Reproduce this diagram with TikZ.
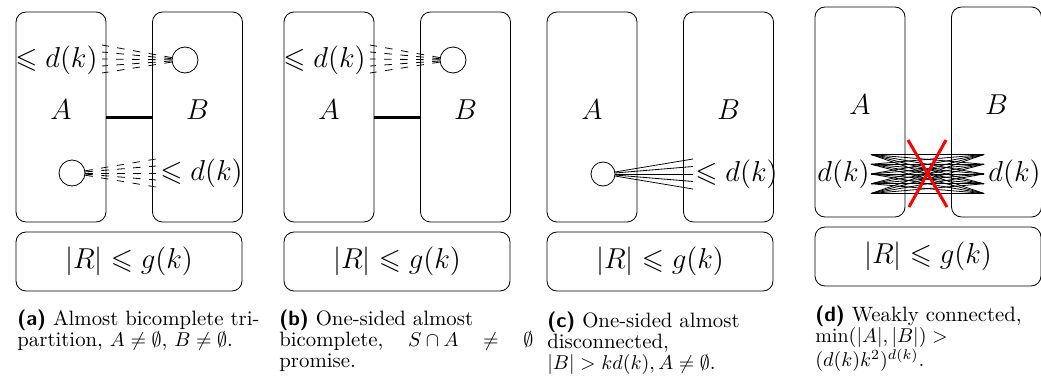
\documentclass[tikz,border=0pt]{standalone}
\usepackage{amsmath,amssymb}

\tikzset{
	partbox/.style={draw, rounded corners=5pt, minimum width=45pt, minimum height=105pt, inner sep=0pt},
	restbox/.style={draw, rounded corners=5pt, minimum width=113pt, minimum height=29.5pt, inner sep=0pt},
	vtx/.style={draw, circle, minimum size=13pt, inner sep=0pt},
	dashfan/.style={dash pattern=on 3.75pt off 4.25pt},
	bigmath/.style={font=\fontsize{14.2}{16}\selectfont},
	capt/.style={anchor=north west, align=left, inner sep=0pt, font=\fontsize{10.4}{10.6}\selectfont}
}

\begin{document}
\begin{tikzpicture}[x=0.5pt, y=-0.5pt, bigmath]
	\useasboundingbox (0,0) rectangle (1041,380);
	\foreach \p/\dx/\dy in {a/0/0, b/268/0, c/531/0, d/799/-5} {
		\node[partbox] (A\p) at (61+\dx,117+\dy) {};
		\node[partbox] (B\p) at (197.5+\dx,117+\dy) {};
		\node[restbox] (R\p) at (129+\dx,261.5+\dy) {$|R|\leqslant g(k)$};
		\node (lA\p) at (61+\dx,110+\dy) {$A$};
		\node (lB\p) at (197.5+\dx,110+\dy) {$B$};
	}
	\draw[line width=1.5pt] (Aa.east) -- (Ba.west);
	\draw[line width=1.5pt] (Ab.east) -- (Bb.west);
	% (a)
	\node[vtx] (ua) at (185,60) {};
	\node[vtx] (wa) at (72,173) {};
	\foreach \i in {-2,...,2} {\coordinate (ua\i) at (102,59+7*\i); \draw[dashfan] (ua) -- (ua\i);}
	\foreach \i in {-2,...,2} {\coordinate (wa\i) at (156,173+7*\i); \draw[dashfan] (wa) -- (wa\i);}
	\node[anchor=east, inner sep=0pt] (dua) at (98,60) {$\leqslant d(k)$};
	\node[anchor=west, inner sep=0pt] (dwa) at (160,173) {$\leqslant d(k)$};
	% (b)
	\node[vtx] (ub) at (453,60) {};
	\foreach \i in {-2,...,2} {\coordinate (ub\i) at (370,59+7*\i); \draw[dashfan] (ub) -- (ub\i);}
	\node[anchor=east, inner sep=0pt] (dub) at (366,60) {$\leqslant d(k)$};
	% (c)
	\node[vtx, minimum size=12pt] (wc) at (603,174) {};
	\foreach \i in {-2,...,2} {\coordinate (wc\i) at (693,174+7.5*\i); \draw (wc) -- (wc\i);}
	\node[anchor=west, inner sep=0pt] (dwc) at (695,174) {$\leqslant d(k)$};
	% (d)
	\foreach \i in {-2,...,2} {\coordinate (ld\i) at (871,174+9.75*\i); \coordinate (rd\i) at (984,174+9.75*\i);}
	\foreach \i in {-2,...,2} {\foreach \j in {-2,...,2} {\draw (ld\i) -- (rd\j);}}
	\node[anchor=east, inner sep=0pt] (dld) at (870,174) {$d(k)$};
	\node[anchor=west, inner sep=0pt] (drd) at (988,174) {$d(k)$};
	\draw[red, line width=1.5pt] (908,140) -- (947,207) (946,140) -- (909,207);
	% captions
	\node[capt, text width=129pt] (capa) at (17,309) {{\sffamily\bfseries (a)} Almost bicomplete tri-\\partition, $A\neq\emptyset$, $B\neq\emptyset$.};
	\node[capt, text width=127pt] (capb) at (279,309) {{\sffamily\bfseries (b)} One-sided almost\\bicomplete,\hfill$S\cap A$\hfill$\neq$\hfill$\emptyset$\\promise.};
	\node[capt, text width=112pt] (capc) at (547,311) {{\sffamily\bfseries (c)} One-sided almost\\disconnected,\\$|B|>kd(k),A\neq\emptyset$.};
	\node[capt, text width=113pt] (capd) at (815,305) {{\sffamily\bfseries (d)} Weakly connected,\\$\min(|A|,|B|)>$\\$(d(k)k^2)^{d(k)}$.};
\end{tikzpicture}
\end{document}
